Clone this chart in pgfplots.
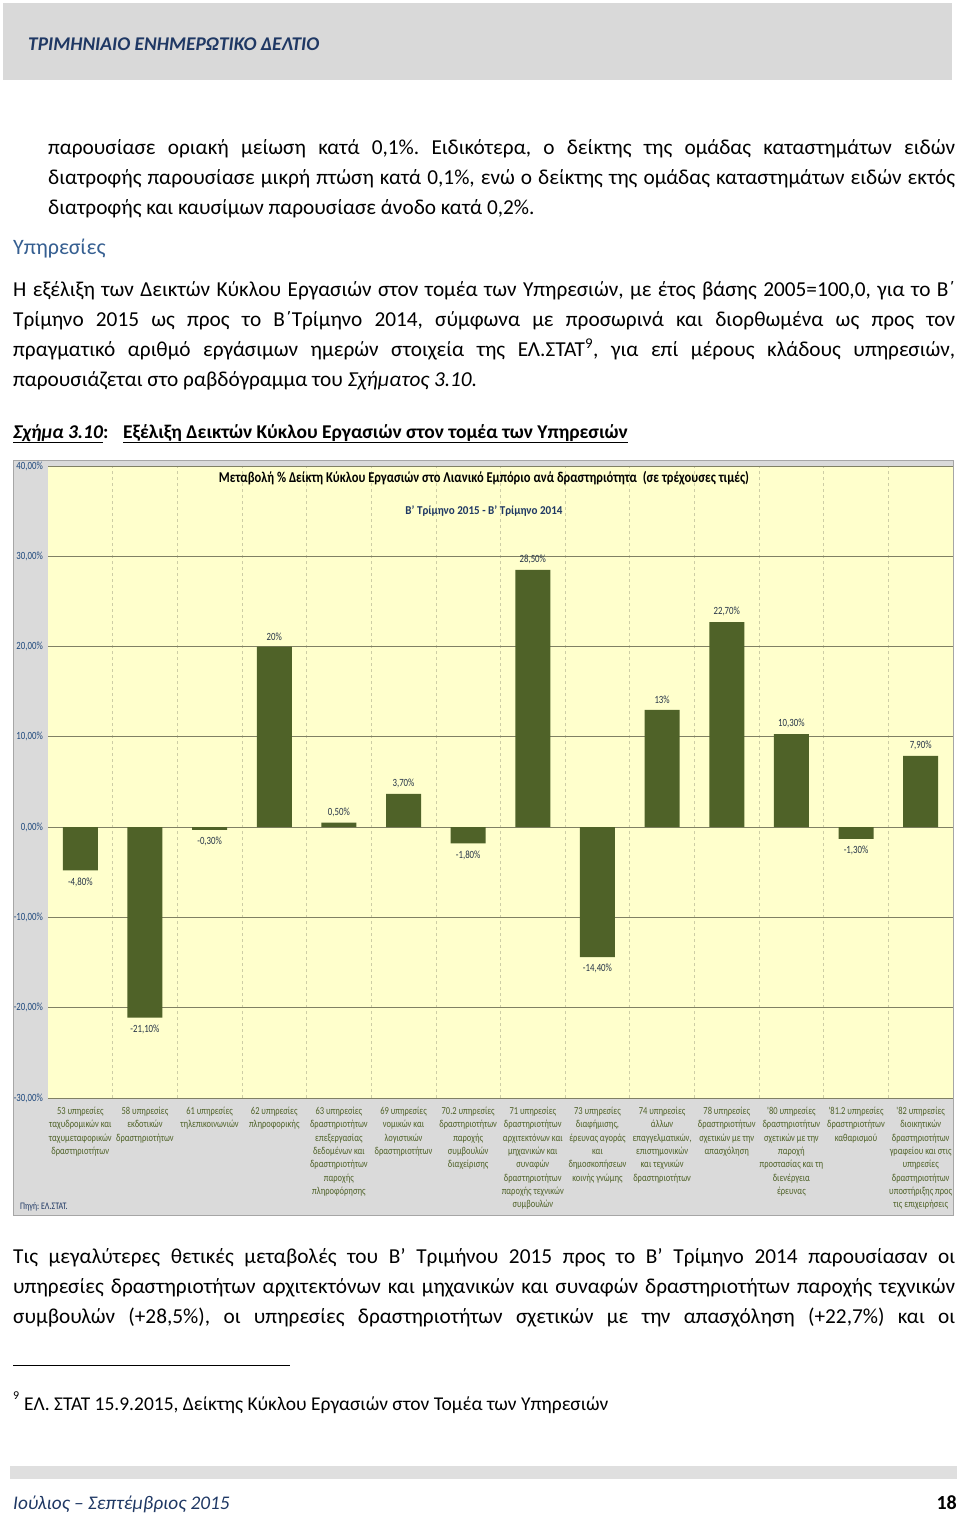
\documentclass[border=0pt]{standalone}
\usepackage{fontspec}
\setmainfont{Carlito}
\newfontfamily\chartfont[FakeStretch=0.8]{Carlito}
\usepackage{graphicx}
\usepackage{pgfplots}
\pgfplotsset{compat=1.18}
\usepackage{pgfplotstable}
\frenchspacing

\definecolor{hdrgray}{RGB}{217,217,217}
\definecolor{navy}{RGB}{31,56,100}
\definecolor{headblue}{RGB}{54,95,145}
\definecolor{barc}{RGB}{79,98,40}
\definecolor{plotbg}{RGB}{255,255,204}
\definecolor{framegray}{RGB}{218,218,218}
\definecolor{gridc}{RGB}{128,128,100}
\definecolor{vgrid}{RGB}{205,205,165}
\definecolor{ytickc}{RGB}{31,73,125}
\definecolor{valc}{RGB}{38,52,72}

\pgfplotstableread{
x y lab
3 20 20
4 0.5 0,50
5 3.7 3,70
7 28.5 28,50
9 13 13
10 22.7 22,70
11 10.3 10,30
13 7.9 7,90
}\posdata
\pgfplotstableread{
x y lab
0 -4.8 -4,80
1 -21.1 -21,10
2 -0.3 -0,30
6 -1.8 -1,80
8 -14.4 -14,40
12 -1.3 -1,30
}\negdata

\newcommand\bodyfont{\fontsize{21.3}{30}\selectfont}
\newcommand\valfont{\chartfont\fontsize{11}{12}\selectfont}
\newcommand\catfont{\chartfont\fontsize{10.6}{13.3}\selectfont}
\newcommand\jline[4]{\node[anchor=base west,inner sep=0pt,font=\bodyfont] at (#1pt,-#2pt) {\makebox[#3pt][s]{#4}};}
\newcommand\pline[3]{\node[anchor=base west,inner sep=0pt,font=\bodyfont] at (#1pt,-#2pt) {#3};}

\begin{document}
\begin{tikzpicture}
\useasboundingbox (0pt,0pt) rectangle (960pt,-1516pt);
% header
\fill[hdrgray] (3pt,-3pt) rectangle (952pt,-80pt);
\node[anchor=base west,inner sep=0pt,font=\fontsize{19.4}{22}\selectfont\bfseries\itshape,text=navy] at (28pt,-50pt) {ΤΡΙΜΗΝΙΑΙΟ ΕΝΗΜΕΡΩΤΙΚΟ ΔΕΛΤΙΟ};
% paragraph 1
\jline{48}{154}{907}{παρουσίασε οριακή μείωση κατά 0,1\%. Ειδικότερα, ο δείκτης της ομάδας καταστημάτων ειδών}
\jline{48}{184}{907}{διατροφής παρουσίασε μικρή πτώση κατά 0,1\%, ενώ ο δείκτης της ομάδας καταστημάτων ειδών εκτός}
\pline{48}{214}{διατροφής και καυσίμων παρουσίασε άνοδο κατά 0,2\%.}
% heading
\node[anchor=base west,inner sep=0pt,font=\fontsize{22}{30}\selectfont,text=headblue] at (13pt,-254pt) {Υπηρεσίες};
% paragraph 2
\jline{13}{296}{942}{Η εξέλιξη των Δεικτών Κύκλου Εργασιών στον τομέα των Υπηρεσιών, με έτος βάσης 2005=100,0, για το Β΄}
\jline{13}{326}{942}{Τρίμηνο 2015 ως προς το Β΄Τρίμηνο 2014, σύμφωνα με προσωρινά και διορθωμένα ως προς τον}
\jline{13}{356}{942}{πραγματικό αριθμό εργάσιμων ημερών στοιχεία της ΕΛ.ΣΤΑΤ\textsuperscript{9}, για επί μέρους κλάδους υπηρεσιών,}
\pline{13}{386}{παρουσιάζεται στο ραβδόγραμμα του \textit{Σχήματος 3.10.}}
% caption
\node[anchor=base west,inner sep=0pt,font=\fontsize{19.5}{30}\selectfont\bfseries] at (13pt,-438pt) {\underline{\textit{Σχήμα 3.10}}:};
\node[anchor=base west,inner sep=0pt,font=\fontsize{19.5}{30}\selectfont\bfseries] at (123pt,-438pt) {\underline{Εξέλιξη Δεικτών Κύκλου Εργασιών στον τομέα των Υπηρεσιών}};
% chart frame
\filldraw[fill=framegray,draw=black!35,line width=1pt] (13pt,-460pt) rectangle (953pt,-1215pt);
\begin{axis}[
  at={(48pt,-1098pt)}, anchor=south west,
  scale only axis, width=905pt, height=632pt,
  xmin=-0.5, xmax=13.5, ymin=-30, ymax=40,
  axis background/.style={fill=plotbg},
  axis line style={draw=none},
  tick style={draw=none},
  ytick={-30,-20,-10,0,10,20,30,40},
  yticklabels={{-30,00\%},{-20,00\%},{-10,00\%},{0,00\%},{10,00\%},{20,00\%},{30,00\%},{40,00\%}},
  yticklabel style={font=\valfont, text=ytickc, inner sep=0pt, xshift=-5pt},
  ymajorgrids,
  major grid style={draw=gridc, line width=0.8pt},
  xtick={0,1,2,3,4,5,6,7,8,9,10,11,12,13},
  minor xtick={0.5,1.5,2.5,3.5,4.5,5.5,6.5,7.5,8.5,9.5,10.5,11.5,12.5},
  xminorgrids,
  minor grid style={draw=vgrid, dashed, line width=0.6pt},
  xticklabels={
    {53 υπηρεσίες\\ταχυδρομικών και\\ταχυμεταφορικών\\δραστηριοτήτων},
    {58 υπηρεσίες\\εκδοτικών\\δραστηριοτήτων},
    {61 υπηρεσίες\\τηλεπικοινωνιών},
    {62 υπηρεσίες\\πληροφορικής},
    {63 υπηρεσίες\\δραστηριοτήτων\\επεξεργασίας\\δεδομένων και\\δραστηριοτήτων\\παροχής\\πληροφόρησης},
    {69 υπηρεσίες\\νομικών και\\λογιστικών\\δραστηριοτήτων},
    {70.2 υπηρεσίες\\δραστηριοτήτων\\παροχής\\συμβουλών\\διαχείρισης},
    {71 υπηρεσίες\\δραστηριοτήτων\\αρχιτεκτόνων και\\μηχανικών και\\συναφών\\δραστηριοτήτων\\παροχής τεχνικών\\συμβουλών},
    {73 υπηρεσίες\\διαφήμισης,\\έρευνας αγοράς\\και\\δημοσκοπήσεων\\κοινής γνώμης},
    {74 υπηρεσίες\\άλλων\\επαγγελματικών,\\επιστημονικών\\και τεχνικών\\δραστηριοτήτων},
    {78 υπηρεσίες\\δραστηριοτήτων\\σχετικών με την\\απασχόληση},
    {'80 υπηρεσίες\\δραστηριοτήτων\\σχετικών με την\\παροχή\\προστασίας και τη\\διενέργεια\\έρευνας},
    {'81.2 υπηρεσίες\\δραστηριοτήτων\\καθαρισμού},
    {'82 υπηρεσίες\\διοικητικών\\δραστηριοτήτων\\γραφείου και στις\\υπηρεσίες\\δραστηριοτήτων\\υποστήριξης προς\\τις επιχειρήσεις}},
  xticklabel style={font=\catfont, text=barc, align=center, anchor=north, inner sep=0pt, yshift=-9pt},
  clip=false,
]
\addplot[ybar, bar width=35pt, bar shift=0pt, fill=barc, draw=none,
  point meta=explicit symbolic,
  nodes near coords={\pgfplotspointmeta\%},
  every node near coord/.append style={font=\valfont, text=valc, anchor=south, inner sep=0pt, yshift=6pt}]
  table[x=x,y=y,meta=lab]{\posdata};
\addplot[ybar, bar width=35pt, bar shift=0pt, fill=barc, draw=none,
  point meta=explicit symbolic,
  nodes near coords={\pgfplotspointmeta\%},
  every node near coord/.append style={font=\valfont, text=valc, anchor=north, inner sep=0pt, yshift=-7pt}]
  table[x=x,y=y,meta=lab]{\negdata};
\end{axis}
\node[font=\fontsize{15}{18}\selectfont\bfseries] at (484pt,-478pt) {\resizebox{530pt}{\height}{Μεταβολή \% Δείκτη Κύκλου Εργασιών στο Λιανικό Εμπόριο ανά δραστηριότητα~~(σε τρέχουσες τιμές)}};
\node[font=\fontsize{12}{14}\selectfont\bfseries,text=navy] at (484pt,-511pt) {\resizebox{157pt}{\height}{Β' Τρίμηνο 2015 - Β' Τρίμηνο 2014}};
\node[anchor=base west,inner sep=0pt,font=\chartfont\fontsize{10}{12}\selectfont,text=navy] at (20pt,-1209pt) {Πηγή: ΕΛ.ΣΤΑΤ.};
% paragraph 3
\jline{13}{1263}{942}{Τις μεγαλύτερες θετικές μεταβολές του Β’ Τριμήνου 2015 προς το Β’ Τρίμηνο 2014 παρουσίασαν οι}
\jline{13}{1293}{942}{υπηρεσίες δραστηριοτήτων αρχιτεκτόνων και μηχανικών και συναφών δραστηριοτήτων παροχής τεχνικών}
\jline{13}{1323}{942}{συμβουλών (+28,5\%), οι υπηρεσίες δραστηριοτήτων σχετικών με την απασχόληση (+22,7\%) και οι}
% footnote
\draw[line width=1pt] (13pt,-1365pt) -- (290pt,-1365pt);
\node[anchor=base west,inner sep=0pt,font=\fontsize{12}{14}\selectfont] at (13pt,-1399pt) {9};
\node[anchor=base west,inner sep=0pt,font=\fontsize{19.5}{22}\selectfont] at (24pt,-1410pt) {ΕΛ. ΣΤΑΤ 15.9.2015, Δείκτης Κύκλου Εργασιών στον Τομέα των Υπηρεσιών};
% footer
\fill[hdrgray!85] (10pt,-1466pt) rectangle (957pt,-1479pt);
\node[anchor=base west,inner sep=0pt,font=\fontsize{19.3}{22}\selectfont\itshape,text=navy] at (13pt,-1509pt) {Ιούλιος – Σεπτέμβριος 2015};
\node[anchor=base east,inner sep=0pt,font=\fontsize{20}{22}\selectfont\bfseries] at (957pt,-1509pt) {18};
\end{tikzpicture}
\end{document}
